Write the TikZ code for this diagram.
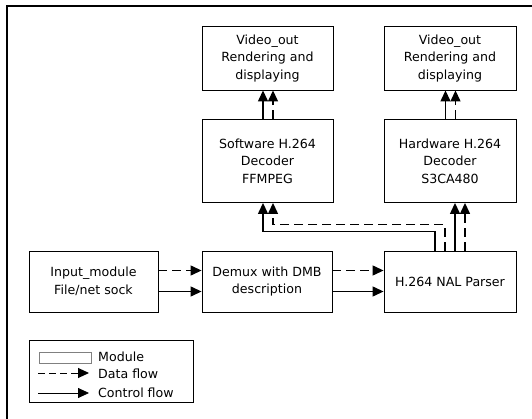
\documentclass[tikz,border=0pt]{standalone}
\usepackage{fontspec}
\setmainfont{DejaVu Sans}
\usetikzlibrary{arrows.meta}
\begin{document}
\begin{tikzpicture}[x=1pt,y=-1pt,
    module/.style={draw,line width=0.9pt,inner sep=0pt,align=center,
        font=\fontsize{12.6}{17.6}\selectfont},
    flow/.style={line width=1.3pt,-{Triangle[length=11pt,width=10pt]}},
    dataflow/.style={flow,dash pattern=on 9pt off 5pt},
    ctrlflow/.style={flow},
    legtext/.style={anchor=west,inner sep=0pt,font=\fontsize{12.6}{14}\selectfont}]
    \useasboundingbox (0,0) rectangle (532,419);
    \draw [line width=1.6pt] (7,419) -- (7,6) -- (532,6);
    % modules
    \node [module,minimum width=131pt,minimum height=63.5pt] (vidl) at (267.5,58.25) {Video\_out\\Rendering and\\displaying};
    \node [module,minimum width=132pt,minimum height=63.5pt] (vidr) at (450,58.25) {Video\_out\\Rendering and\\displaying};
    \node [module,minimum width=131pt,minimum height=83pt] (swdec) at (267.5,161) {Software H.264\\Decoder\\FFMPEG};
    \node [module,minimum width=132pt,minimum height=83pt] (hwdec) at (450,161) {Hardware H.264\\Decoder\\S3CA480};
    \node [module,minimum width=129pt,minimum height=61pt] (input) at (93.5,281.5) {Input\_module\\File/net sock};
    \node [module,minimum width=130pt,minimum height=61pt] (demux) at (267,281.5) {Demux with DMB\\description};
    \node [module,minimum width=132pt,minimum height=61pt] (nal) at (450,281.5) {H.264 NAL Parser};
    % flows
    \draw [dataflow] ([yshift=11pt]input.east) -- ([yshift=11pt]demux.west);
    \draw [ctrlflow] ([yshift=-10pt]input.east) -- ([yshift=-10pt]demux.west);
    \draw [dataflow] ([yshift=11pt]demux.east) -- ([yshift=11pt]nal.west);
    \draw [ctrlflow] ([yshift=-10pt]demux.east) -- ([yshift=-10pt]nal.west);
    \draw [ctrlflow] ([xshift=-15pt]nal.north) -- ++(0,-19) -| ([xshift=-4.5pt]swdec.south);
    \draw [dataflow] ([xshift=-5pt]nal.north) -- ++(0,-26) -| ([xshift=5.5pt]swdec.south);
    \draw [ctrlflow] ([xshift=5pt]nal.north) -- ([xshift=5pt]hwdec.south);
    \draw [dataflow] ([xshift=15pt]nal.north) -- ([xshift=15pt]hwdec.south);
    \draw [ctrlflow] ([xshift=-4.5pt]swdec.north) -- ([xshift=-4.5pt]vidl.south);
    \draw [dataflow] ([xshift=5.5pt]swdec.north) -- ([xshift=5.5pt]vidl.south);
    \draw [ctrlflow] ([xshift=-4.5pt]hwdec.north) -- ([xshift=-4.5pt]vidr.south);
    \draw [dataflow] ([xshift=5.5pt]hwdec.north) -- ([xshift=5.5pt]vidr.south);
    % legend
    \node [draw,line width=0.9pt,minimum width=164pt,minimum height=62pt] (legend) at (111,371) {};
    \node [draw=gray,line width=0.6pt,minimum width=52pt,minimum height=11pt,inner sep=0pt] (legmod) at (65,357.5) {};
    \node [legtext] (txtmod) at (98,357) {Module};
    \node [legtext] (txtdata) at (98,374) {Data flow};
    \node [legtext] (txtctrl) at (98,393) {Control flow};
    \coordinate (datastart) at (38,373);
    \coordinate (ctrlstart) at (38,393);
    \draw [dataflow,line width=1pt,dash pattern=on 7pt off 4pt] (datastart) -- ([xshift=-9pt]txtdata.west |- datastart);
    \draw [ctrlflow,line width=0.8pt] (ctrlstart) -- ([xshift=-9pt]txtctrl.west |- ctrlstart);
\end{tikzpicture}
\end{document}
